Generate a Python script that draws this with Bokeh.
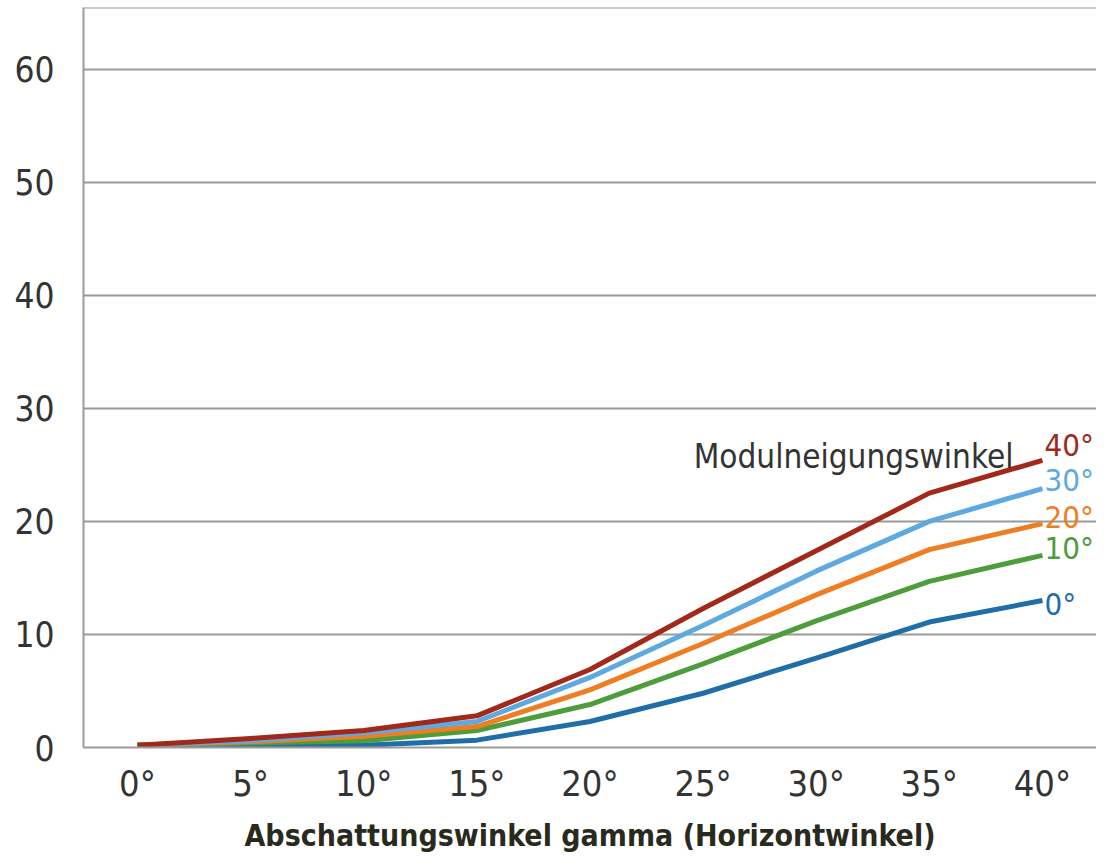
from bokeh.plotting import figure
from bokeh.models import Range1d, FixedTicker, Span, ColumnDataSource
from bokeh.core.properties import value
from bokeh.embed import file_html
from bokeh.resources import INLINE

# ---- data ----
gamma = [0, 5, 10, 15, 20, 25, 30, 35, 40]
x_tick_labels = ["0°", "5°", "10°", "15°", "20°", "25°", "30°", "35°", "40°"]
y_ticks = [0, 10, 20, 30, 40, 50, 60]

tilt_0 = [0.2, 0.1, 0.2, 0.65, 2.3, 4.8, 7.9, 11.1, 13.0]
tilt_10 = [0.2, 0.4, 0.6, 1.5, 3.8, 7.4, 11.2, 14.7, 17.0]
tilt_20 = [0.2, 0.5, 1.0, 1.85, 5.1, 9.2, 13.5, 17.5, 19.8]
tilt_30 = [0.2, 0.6, 1.3, 2.3, 6.2, 10.8, 15.6, 20.0, 22.9]
tilt_40 = [0.2, 0.8, 1.5, 2.8, 6.9, 12.3, 17.4, 22.5, 25.4]

series = [tilt_0, tilt_10, tilt_20, tilt_30, tilt_40]
series_labels = ["0°", "10°", "20°", "30°", "40°"]
legend_title = "Modulneigungswinkel"
x_title = "Abschattungswinkel gamma (Horizontwinkel)"

# ---- styles ----
colors = ["#1f6ea8", "#4e9d3b", "#ef7d22", "#5eaae0", "#a2281a"]
label_dy = [3, -7, -7, -9, -15]
FONT = "'DejaVu Sans Condensed', 'Liberation Sans Narrow', 'DejaVu Sans', sans-serif"
GRID = "#9a9a9a"

Y_END = 65.46
p = figure(width=1096, height=855, output_backend="svg", toolbar_location=None,
           x_range=Range1d(-2.387, 42.39), y_range=Range1d(0, Y_END),
           min_border_left=83, min_border_right=0, min_border_top=7,
           min_border_bottom=105)
p.outline_line_color = None
p.background_fill_color = "white"

p.xgrid.grid_line_color = None
p.ygrid.grid_line_color = GRID
p.ygrid.grid_line_width = 2

# axes
p.xaxis.ticker = FixedTicker(ticks=gamma)
p.xaxis.major_label_overrides = {g: lab for g, lab in zip(gamma, x_tick_labels)}
p.yaxis.ticker = FixedTicker(ticks=y_ticks)
for ax in (p.xaxis, p.yaxis):
    ax.major_tick_line_color = None
    ax.minor_tick_line_color = None
    ax.major_tick_out = 0
    ax.major_tick_in = 0
    ax.axis_line_color = GRID
    ax.axis_line_width = 2
    ax.major_label_text_font = FONT
    ax.major_label_text_color = "#333333"
p.yaxis.major_label_text_font_size = "35px"
p.yaxis.major_label_standoff = 29
p.xaxis.major_label_text_font_size = "36px"
p.xaxis.major_label_standoff = 15
p.xaxis.axis_label = x_title
p.xaxis.axis_label_text_font = FONT
p.xaxis.axis_label_text_font_style = "bold"
p.xaxis.axis_label_text_font_size = "30px"
p.xaxis.axis_label_text_color = "#2a2a1c"
p.xaxis.axis_label_standoff = 11

p.add_layout(Span(location=Y_END, dimension="width", line_color=GRID, line_width=2))

for vals, col in zip(series, colors):
    p.line(gamma, vals, line_color=col, line_width=5, line_join="round")

src = ColumnDataSource(dict(
    x=[gamma[-1]] * len(series),
    y=[s[-1] for s in series],
    t=series_labels,
    c=colors,
    dy=label_dy,
))
p.text(x="x", y="y", text="t", text_color="c", y_offset="dy", x_offset=2,
       text_font=value(FONT), text_font_size="31px", text_baseline="middle",
       text_align="left", source=src)

p.text(x=[gamma[-1]], y=[tilt_40[-1]], text=[legend_title], x_offset=-29, y_offset=-4,
       text_font=value(FONT), text_font_size="33px", text_color="#333333",
       text_baseline="alphabetic", text_align="right")

open("out.html", "w").write(file_html(p, INLINE))
